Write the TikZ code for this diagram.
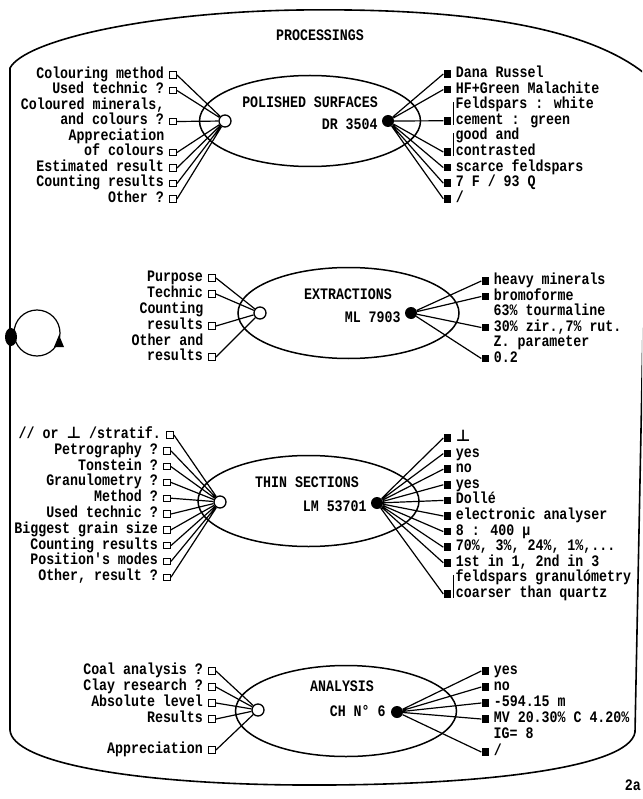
\documentclass[tikz,border=0pt]{standalone}
\usepackage{fontspec}
\newfontfamily\typew{Liberation Mono}[FakeStretch=0.83]
\newfontfamily\symf{DejaVu Sans}
\usetikzlibrary{positioning,shapes.geometric}

\newcommand{\perpmark}{{\symf\bfseries ⊥}}

\tikzset{
  wall/.style={line width=1.6pt},
  oval/.style={draw, ellipse, line width=1.5pt, minimum width=221pt, minimum height=91pt, inner sep=0pt},
  wire/.style={line width=1.2pt},
  brace/.style={line width=0.5pt},
  ohub/.style={draw, circle, line width=1.3pt, fill=white, minimum size=12pt, inner sep=0pt},
  fhub/.style={fill, circle, minimum size=12pt, inner sep=0pt},
  obox/.style={draw, line width=0.9pt, fill=white, minimum width=7pt, minimum height=6.5pt, inner sep=0pt},
  fbox/.style={fill, minimum width=7pt, minimum height=7.5pt, inner sep=0pt},
  txt/.style={font={\typew\bfseries\fontsize{16}{17}\selectfont}, inner sep=2pt, text height=9.5pt, text depth=2.5pt},
  ltxt/.style={txt, anchor=east},
  rtxt/.style={txt, anchor=west},
  label distance=3pt
}

\begin{document}
\begin{tikzpicture}[x=1pt, y=-1pt]
    \useasboundingbox (0,0) rectangle (642,799);
    \clip (0,0) rectangle (642,799);

    % outer wall
    \draw[wall] (10,730) -- (10,68) .. controls (25,40) and (150,12) .. (300,10) .. controls (460,8) and (590,25) .. (650,78);
    \draw[wall] (648,78) -- (635,732);
    \draw[wall] (10,730) .. controls (12,762) and (130,784) .. (300,785) .. controls (480,786) and (630,768) .. (635,732);
    \node[txt] (proc) at (320,37) {PROCESSINGS};
    \node[txt, anchor=east] (page) at (643,787) {2a};

    % loop on the wall
    \node[fill, ellipse, minimum width=12pt, minimum height=18pt, inner sep=0pt] (knot) at (11,337) {};
    \coordinate (loopc) at (37,333);
    \draw[wire] (loopc) circle[radius=23];
    \fill (59,335) -- (54,347) -- (64,347) -- cycle;

    % polished surfaces
    \node[oval] (polish) at (310,121) {};
    \node[txt] (polishT) at (310,104) {POLISHED SURFACES};
    \node[ohub] (polishL) at (225,121) {};
    \node[fhub] (polishR) at (388,121) {};
    \node[txt, left=2pt of polishR, yshift=-5pt] (polishC) {DR 3504};

    \node[obox, label={[ltxt]left:Colouring method}] (pl1) at (173,75) {};
    \node[obox, label={[ltxt]left:Used technic ?}] (pl2) at (173,90.5) {};
    \node[ltxt] (pl3) at (166.5,106) {Coloured minerals,};
    \node[obox, label={[ltxt]left:and colours ?}] (pl4) at (173,121.5) {};
    \node[ltxt] (pl5) at (166.5,137) {Appreciation};
    \node[obox, label={[ltxt]left:of colours}] (pl6) at (173,152.5) {};
    \node[obox, label={[ltxt]left:Estimated result}] (pl7) at (173,168) {};
    \node[obox, label={[ltxt]left:Counting results}] (pl8) at (173,183.5) {};
    \node[obox, label={[ltxt]left:Other ?}] (pl9) at (173,199) {};

    \node[fbox, label={[rtxt]right:Dana Russel}] (pr1) at (447,74) {};
    \node[fbox, label={[rtxt]right:HF+Green Malachite}] (pr2) at (447,89.6) {};
    \node[rtxt] (pr3) at (453.5,105.2) {Feldspars : white};
    \node[fbox, label={[rtxt]right:{cement : green}}] (pr4) at (447,120.8) {};
    \node[rtxt] (pr5) at (453.5,136.4) {good and};
    \node[fbox, label={[rtxt]right:contrasted}] (pr6) at (447,152) {};
    \node[fbox, label={[rtxt]right:scarce feldspars}] (pr7) at (447,167.6) {};
    \node[fbox, label={[rtxt]right:7 F / 93 Q}] (pr8) at (447,183.2) {};
    \node[fbox, label={[rtxt]right:/}] (pr9) at (447,198.8) {};
    \draw[brace] ([yshift=3pt]pr3.west) -- (pr3.west |- pr4.south);
    \draw[brace] ([yshift=3pt]pr5.west) -- (pr5.west |- pr6.south);

    \draw[wire] (pl1.east) -- (polishL) (pl2.east) -- (polishL) (pl4.east) -- (polishL)
        (pl6.east) -- (polishL) (pl7.east) -- (polishL) (pl8.east) -- (polishL) (pl9.east) -- (polishL);
    \draw[wire] (polishR) -- (pr1.west) (polishR) -- (pr2.west) (polishR) -- (pr4.west)
        (polishR) -- (pr6.west) (polishR) -- (pr7.west) (polishR) -- (pr8.west) (polishR) -- (pr9.west);

    % extractions
    \node[oval] (extract) at (348.5,313) {};
    \node[txt] (extractT) at (348,296) {EXTRACTIONS};
    \node[ohub] (extractL) at (260,313) {};
    \node[fhub] (extractR) at (411,313) {};
    \node[txt, left=2pt of extractR, yshift=-6pt] (extractC) {ML 7903};

    \node[obox, label={[ltxt]left:Purpose}] (el1) at (212,278) {};
    \node[obox, label={[ltxt]left:Technic}] (el2) at (212,294) {};
    \node[ltxt] (el3) at (205.5,310) {Counting};
    \node[obox, label={[ltxt]left:results}] (el4) at (212,326) {};
    \node[ltxt] (el5) at (205.5,342) {Other and};
    \node[obox, label={[ltxt]left:results}] (el6) at (212,357) {};

    \node[fbox, label={[rtxt]right:heavy minerals}] (er1) at (485,281) {};
    \node[fbox, label={[rtxt]right:bromoforme}] (er2) at (485,296.5) {};
    \node[rtxt] (er3) at (491.5,312) {63\% tourmaline};
    \node[fbox, label={[rtxt]right:{30\% zir.,7\% rut.}}] (er4) at (485,327.5) {};
    \node[rtxt] (er5) at (491.5,343) {Z. parameter};
    \node[fbox, label={[rtxt]right:0.2}] (er6) at (485,358.5) {};

    \draw[wire] (el1.east) -- (extractL) (el2.east) -- (extractL) (el4.east) -- (extractL) (el6.east) -- (extractL);
    \draw[wire] (extractR) -- (er1.west) (extractR) -- (er2.west) (extractR) -- (er4.west) (extractR) -- (er6.west);

    % thin sections
    \node[oval] (thin) at (308.5,501) {};
    \node[txt] (thinT) at (307,484) {THIN SECTIONS};
    \node[ohub] (thinL) at (220,502) {};
    \node[fhub] (thinR) at (377,503) {};
    \node[txt, left=2pt of thinR, yshift=-5pt] (thinC) {LM 53701};

    \node[obox, label={[ltxt]left:{// or \perpmark{} /stratif.}}] (tl1) at (170,435) {};
    \node[obox, label={[ltxt]left:Petrography ?}] (tl2) at (167,450.8) {};
    \node[obox, label={[ltxt]left:Tonstein ?}] (tl3) at (167,466.6) {};
    \node[obox, label={[ltxt]left:Granulometry ?}] (tl4) at (167,482.4) {};
    \node[obox, label={[ltxt]left:Method ?}] (tl5) at (167,498.2) {};
    \node[obox, label={[ltxt]left:Used technic ?}] (tl6) at (167,514) {};
    \node[obox, label={[ltxt]left:Biggest grain size}] (tl7) at (167,529.8) {};
    \node[obox, label={[ltxt]left:Counting results}] (tl8) at (167,545.6) {};
    \node[obox, label={[ltxt]left:Position's modes}] (tl9) at (167,561.4) {};
    \node[obox, label={[ltxt]left:{Other, result ?}}] (tl10) at (167,577.2) {};

    \node[fbox, label={[rtxt]right:\perpmark}] (tr1) at (447,438) {};
    \node[fbox, label={[rtxt]right:yes}] (tr2) at (447,453.6) {};
    \node[fbox, label={[rtxt]right:no}] (tr3) at (447,469.2) {};
    \node[fbox, label={[rtxt]right:yes}] (tr4) at (447,484.8) {};
    \node[fbox, label={[rtxt]right:Dollé}] (tr5) at (447,500.4) {};
    \node[fbox, label={[rtxt]right:electronic analyser}] (tr6) at (447,516) {};
    \node[fbox, label={[rtxt]right:{8 : 400 µ}}] (tr7) at (447,531.6) {};
    \node[fbox, label={[rtxt]right:{70\%, 3\%, 24\%, 1\%,...}}] (tr8) at (447,547.2) {};
    \node[fbox, label={[rtxt]right:{1st in 1, 2nd in 3}}] (tr9) at (447,562.8) {};
    \node[rtxt] (tr10) at (453.5,578.4) {feldspars granulómetry};
    \node[fbox, label={[rtxt]right:coarser than quartz}] (tr11) at (447,594) {};
    \draw[brace] ([yshift=3pt]tr10.west) -- (tr10.west |- tr11.south);

    \draw[wire] (tl1.east) -- (thinL) (tl2.east) -- (thinL) (tl3.east) -- (thinL) (tl4.east) -- (thinL)
        (tl5.east) -- (thinL) (tl6.east) -- (thinL) (tl7.east) -- (thinL) (tl8.east) -- (thinL)
        (tl9.east) -- (thinL) (tl10.east) -- (thinL);
    \draw[wire] (thinR) -- (tr1.west) (thinR) -- (tr2.west) (thinR) -- (tr3.west) (thinR) -- (tr4.west)
        (thinR) -- (tr5.west) (thinR) -- (tr6.west) (thinR) -- (tr7.west) (thinR) -- (tr8.west)
        (thinR) -- (tr9.west) (thinR) -- (tr11.west);

    % analysis
    \node[oval] (anal) at (346,711) {};
    \node[txt] (analT) at (342,688) {ANALYSIS};
    \node[ohub] (analL) at (258,710) {};
    \node[fhub] (analR) at (397,712) {};
    \node[txt, left=3pt of analR, yshift=-1pt] (analC) {CH N° 6};

    \node[obox, label={[ltxt]left:Coal analysis ?}] (al1) at (212,671) {};
    \node[obox, label={[ltxt]left:Clay research ?}] (al2) at (212,687) {};
    \node[obox, label={[ltxt]left:Absolute level}] (al3) at (212,703) {};
    \node[obox, label={[ltxt]left:Results}] (al4) at (212,719) {};
    \node[obox, label={[ltxt]left:Appreciation}] (al5) at (212,750) {};

    \node[fbox, label={[rtxt]right:yes}] (ar1) at (485,671) {};
    \node[fbox, label={[rtxt]right:no}] (ar2) at (485,687) {};
    \node[fbox, label={[rtxt]right:-594.15 m}] (ar3) at (485,703) {};
    \node[fbox, label={[rtxt]right:{MV 20.30\% C 4.20\%}}] (ar4) at (485,719) {};
    \node[rtxt] (ar5) at (491.5,735) {IG= 8};
    \node[fbox, label={[rtxt]right:/}] (ar6) at (485,752) {};

    \draw[wire] (al1.east) -- (analL) (al2.east) -- (analL) (al3.east) -- (analL) (al4.east) -- (analL) (al5.east) -- (analL);
    \draw[wire] (analR) -- (ar1.west) (analR) -- (ar2.west) (analR) -- (ar3.west) (analR) -- (ar4.west) (analR) -- (ar6.west);

\end{tikzpicture}
\end{document}
